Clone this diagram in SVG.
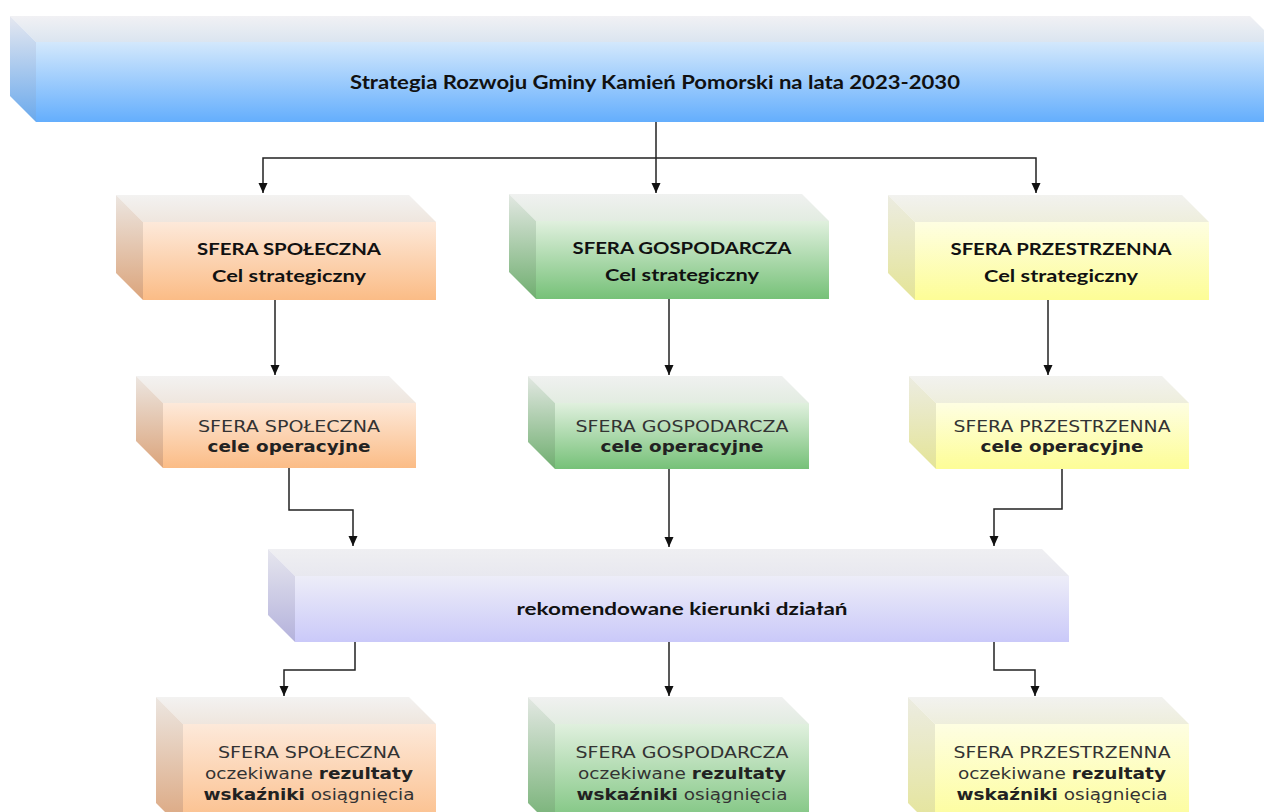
<svg xmlns="http://www.w3.org/2000/svg" width="1264" height="812" viewBox="0 0 1264 812">
<defs>
<linearGradient id="bF" x1="0" y1="0" x2="0" y2="1"><stop offset="0" stop-color="#d3e8fc"/><stop offset="1" stop-color="#64aefd"/></linearGradient>
<linearGradient id="bT" x1="0" y1="0" x2="0" y2="1"><stop offset="0" stop-color="#f1f1f4"/><stop offset="1" stop-color="#dbe5f0"/></linearGradient>
<linearGradient id="bL" x1="0" y1="0" x2="0" y2="1"><stop offset="0" stop-color="#e6e8f0"/><stop offset="1" stop-color="#6aa9ec"/></linearGradient>
<linearGradient id="oF" x1="0" y1="0" x2="0" y2="1"><stop offset="0" stop-color="#fde9da"/><stop offset="1" stop-color="#fbbc86"/></linearGradient>
<linearGradient id="oT" x1="0" y1="0" x2="0" y2="1"><stop offset="0" stop-color="#f3f2f1"/><stop offset="1" stop-color="#efe6de"/></linearGradient>
<linearGradient id="oL" x1="0" y1="0" x2="0" y2="1"><stop offset="0" stop-color="#ece6e1"/><stop offset="1" stop-color="#dba47b"/></linearGradient>
<linearGradient id="gF" x1="0" y1="0" x2="0" y2="1"><stop offset="0" stop-color="#e0f0de"/><stop offset="1" stop-color="#76c178"/></linearGradient>
<linearGradient id="gT" x1="0" y1="0" x2="0" y2="1"><stop offset="0" stop-color="#f0f1f0"/><stop offset="1" stop-color="#e2ece1"/></linearGradient>
<linearGradient id="gL" x1="0" y1="0" x2="0" y2="1"><stop offset="0" stop-color="#e3e8e3"/><stop offset="1" stop-color="#6fae6f"/></linearGradient>
<linearGradient id="yF" x1="0" y1="0" x2="0" y2="1"><stop offset="0" stop-color="#fefee2"/><stop offset="1" stop-color="#fdfd96"/></linearGradient>
<linearGradient id="yT" x1="0" y1="0" x2="0" y2="1"><stop offset="0" stop-color="#f2f2ef"/><stop offset="1" stop-color="#eeeedc"/></linearGradient>
<linearGradient id="yL" x1="0" y1="0" x2="0" y2="1"><stop offset="0" stop-color="#ecece2"/><stop offset="1" stop-color="#e4e496"/></linearGradient>
<linearGradient id="pF" x1="0" y1="0" x2="0" y2="1"><stop offset="0" stop-color="#ededf8"/><stop offset="1" stop-color="#cac9f9"/></linearGradient>
<linearGradient id="pT" x1="0" y1="0" x2="0" y2="1"><stop offset="0" stop-color="#efeff2"/><stop offset="1" stop-color="#e8e8ef"/></linearGradient>
<linearGradient id="pL" x1="0" y1="0" x2="0" y2="1"><stop offset="0" stop-color="#e6e6ee"/><stop offset="1" stop-color="#b4b2dc"/></linearGradient>
<marker id="arr" markerWidth="10" markerHeight="10" refX="10" refY="5" orient="auto" markerUnits="userSpaceOnUse" viewBox="0 0 10 10">
<path d="M0,0.5 L10,5 L0,9.5 Z" fill="#111"/>
</marker>
</defs>
<style>
.cal{font-family:Lato,"Open Sans","Liberation Sans",sans-serif;font-weight:bold;fill:#111;text-anchor:middle}
.ver{font-family:"DejaVu Sans",Verdana,sans-serif;fill:#333;text-anchor:middle;font-size:16.5px}
.b{font-weight:bold;fill:#222}
.con{fill:none;stroke:#222;stroke-width:1.5}
</style>
<rect width="1264" height="812" fill="#fff"/>

<g id="title">
<polygon points="10,16 1250,16 1276,42 36,42" fill="url(#bT)"/>
<polygon points="10,16 36,42 36,122 10,96" fill="url(#bL)"/>
<rect x="36" y="42" width="1240" height="80" fill="url(#bF)"/>
<text class="cal" x="655" y="89" font-size="18" textLength="610" lengthAdjust="spacingAndGlyphs">Strategia Rozwoju Gminy Kamień Pomorski na lata 2023-2030</text>
</g>

<g id="cel-spoleczna">
<polygon points="116,195 409,195 436,222 143,222" fill="url(#oT)"/>
<polygon points="116,195 143,222 143,300 116,273" fill="url(#oL)"/>
<rect x="143" y="222" width="293" height="78" fill="url(#oF)"/>
<text class="cal" x="289" y="255" font-size="17" textLength="184" lengthAdjust="spacingAndGlyphs">SFERA SPOŁECZNA</text>
<text class="cal" x="289" y="282" font-size="17" textLength="154" lengthAdjust="spacingAndGlyphs">Cel strategiczny</text>
</g>

<g id="cel-gospodarcza">
<polygon points="509,194 802,194 829,221 536,221" fill="url(#gT)"/>
<polygon points="509,194 536,221 536,299 509,272" fill="url(#gL)"/>
<rect x="536" y="221" width="293" height="78" fill="url(#gF)"/>
<text class="cal" x="682" y="254" font-size="17" textLength="219" lengthAdjust="spacingAndGlyphs">SFERA GOSPODARCZA</text>
<text class="cal" x="682" y="281" font-size="17" textLength="154" lengthAdjust="spacingAndGlyphs">Cel strategiczny</text>
</g>

<g id="cel-przestrzenna">
<polygon points="888,195 1182,195 1209,222 915,222" fill="url(#yT)"/>
<polygon points="888,195 915,222 915,300 888,273" fill="url(#yL)"/>
<rect x="915" y="222" width="294" height="78" fill="url(#yF)"/>
<text class="cal" x="1061" y="255" font-size="17" textLength="221" lengthAdjust="spacingAndGlyphs">SFERA PRZESTRZENNA</text>
<text class="cal" x="1061" y="282" font-size="17" textLength="154" lengthAdjust="spacingAndGlyphs">Cel strategiczny</text>
</g>

<g id="op-spoleczna">
<polygon points="136,376 389,376 416,403 163,403" fill="url(#oT)"/>
<polygon points="136,376 163,403 163,468 136,441" fill="url(#oL)"/>
<rect x="163" y="403" width="253" height="65" fill="url(#oF)"/>
<text class="ver" x="289" y="432" textLength="182" lengthAdjust="spacingAndGlyphs">SFERA SPOŁECZNA</text>
<text class="ver b" x="289" y="452" textLength="163" lengthAdjust="spacingAndGlyphs">cele operacyjne</text>
</g>

<g id="op-gospodarcza">
<polygon points="528,376 782,376 809,403 555,403" fill="url(#gT)"/>
<polygon points="528,376 555,403 555,469 528,442" fill="url(#gL)"/>
<rect x="555" y="403" width="254" height="66" fill="url(#gF)"/>
<text class="ver" x="682" y="432" textLength="213" lengthAdjust="spacingAndGlyphs">SFERA GOSPODARCZA</text>
<text class="ver b" x="682" y="452" textLength="163" lengthAdjust="spacingAndGlyphs">cele operacyjne</text>
</g>

<g id="op-przestrzenna">
<polygon points="909,376 1162,376 1189,403 936,403" fill="url(#yT)"/>
<polygon points="909,376 936,403 936,469 909,442" fill="url(#yL)"/>
<rect x="936" y="403" width="253" height="66" fill="url(#yF)"/>
<text class="ver" x="1062" y="432" textLength="217" lengthAdjust="spacingAndGlyphs">SFERA PRZESTRZENNA</text>
<text class="ver b" x="1062" y="452" textLength="163" lengthAdjust="spacingAndGlyphs">cele operacyjne</text>
</g>

<g id="kierunki">
<polygon points="268,549 1042,549 1069,576 295,576" fill="url(#pT)"/>
<polygon points="268,549 295,576 295,642 268,615" fill="url(#pL)"/>
<rect x="295" y="576" width="774" height="66" fill="url(#pF)"/>
<text class="cal" x="682" y="615" font-size="17" textLength="331" lengthAdjust="spacingAndGlyphs">rekomendowane kierunki działań</text>
</g>

<g id="rez-spoleczna">
<polygon points="156,697 409,697 436,724 183,724" fill="url(#oT)"/>
<polygon points="156,697 183,724 183,830 156,803" fill="url(#oL)"/>
<rect x="183" y="724" width="253" height="106" fill="url(#oF)"/>
<text class="ver" x="309" y="758" textLength="182" lengthAdjust="spacingAndGlyphs">SFERA SPOŁECZNA</text>
<text class="ver" x="309" y="779" textLength="208" lengthAdjust="spacingAndGlyphs">oczekiwane <tspan class="b">rezultaty</tspan></text>
<text class="ver" x="309" y="800" textLength="211" lengthAdjust="spacingAndGlyphs"><tspan class="b">wskaźniki</tspan> osiągnięcia</text>
</g>

<g id="rez-gospodarcza">
<polygon points="528,697 782,697 809,724 555,724" fill="url(#gT)"/>
<polygon points="528,697 555,724 555,830 528,803" fill="url(#gL)"/>
<rect x="555" y="724" width="254" height="106" fill="url(#gF)"/>
<text class="ver" x="682" y="758" textLength="213" lengthAdjust="spacingAndGlyphs">SFERA GOSPODARCZA</text>
<text class="ver" x="682" y="779" textLength="208" lengthAdjust="spacingAndGlyphs">oczekiwane <tspan class="b">rezultaty</tspan></text>
<text class="ver" x="682" y="800" textLength="211" lengthAdjust="spacingAndGlyphs"><tspan class="b">wskaźniki</tspan> osiągnięcia</text>
</g>

<g id="rez-przestrzenna">
<polygon points="908,697 1162,697 1189,724 935,724" fill="url(#yT)"/>
<polygon points="908,697 935,724 935,830 908,803" fill="url(#yL)"/>
<rect x="935" y="724" width="254" height="106" fill="url(#yF)"/>
<text class="ver" x="1062" y="758" textLength="217" lengthAdjust="spacingAndGlyphs">SFERA PRZESTRZENNA</text>
<text class="ver" x="1062" y="779" textLength="208" lengthAdjust="spacingAndGlyphs">oczekiwane <tspan class="b">rezultaty</tspan></text>
<text class="ver" x="1062" y="800" textLength="211" lengthAdjust="spacingAndGlyphs"><tspan class="b">wskaźniki</tspan> osiągnięcia</text>
</g>

<g id="connectors">
<path class="con" d="M656,122 V193" marker-end="url(#arr)"/>
<path class="con" d="M656,158 H263 V193" marker-end="url(#arr)"/>
<path class="con" d="M656,158 H1036 V193" marker-end="url(#arr)"/>
<path class="con" d="M275,300 V375" marker-end="url(#arr)"/>
<path class="con" d="M669,299 V375" marker-end="url(#arr)"/>
<path class="con" d="M1048,300 V375" marker-end="url(#arr)"/>
<path class="con" d="M289,468 V510 H353 V546" marker-end="url(#arr)"/>
<path class="con" d="M669,469 V547" marker-end="url(#arr)"/>
<path class="con" d="M1062,469 V509 H994 V546" marker-end="url(#arr)"/>
<path class="con" d="M355,642 V670 H284 V696" marker-end="url(#arr)"/>
<path class="con" d="M669,642 V696" marker-end="url(#arr)"/>
<path class="con" d="M994,642 V670 H1035 V696" marker-end="url(#arr)"/>
</g>
</svg>
